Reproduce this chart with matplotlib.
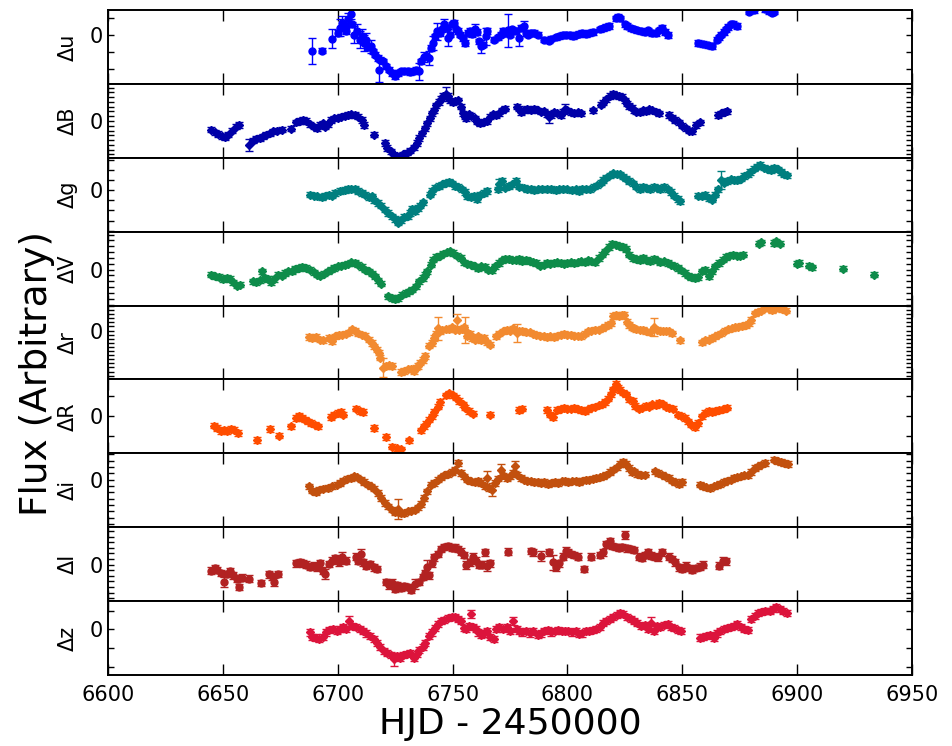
import numpy as np
import matplotlib.pyplot as plt
from matplotlib.ticker import MultipleLocator, FuncFormatter

# light curves, HJD - 2450000 vs. flux offset (arbitrary units)

# u
hjd_u = [6693.0, 6700.0, 6703.0, 6703.6, 6706.4, 6713.2, 6715.4, 6716.4, 6717.6, 6718.6, 6719.6, 6721.0,
         6722.4, 6723.6, 6725.0, 6726.4, 6727.6, 6729.0, 6730.4, 6731.6, 6733.0, 6734.0, 6736.4, 6738.4,
         6740.6, 6742.4, 6744.4, 6745.4, 6747.4, 6749.0, 6749.8, 6750.6, 6751.6, 6752.4, 6753.4, 6754.4,
         6755.4, 6756.6, 6757.6, 6758.6, 6760.6, 6761.6, 6763.4, 6765.2, 6768.0, 6769.6, 6771.0, 6772.0,
         6773.0, 6775.0, 6776.0, 6777.6, 6780.0, 6782.0, 6783.0, 6784.0, 6785.6, 6787.0, 6790.0, 6792.0,
         6793.0, 6795.0, 6796.4, 6798.0, 6799.4, 6801.0, 6802.4, 6803.6, 6805.0, 6806.4, 6808.0, 6809.6,
         6811.0, 6814.0, 6815.6, 6817.0, 6818.0, 6821.0, 6822.0, 6823.0, 6825.0, 6826.0, 6827.6, 6829.0,
         6830.4, 6832.0, 6833.6, 6835.0, 6837.0, 6838.4, 6840.0, 6841.0, 6842.4, 6843.6, 6857.0, 6859.0,
         6861.0, 6863.0, 6865.0, 6866.0, 6867.0, 6868.0, 6869.0, 6870.0, 6871.0, 6872.0, 6873.6, 6879.0,
         6881.0, 6886.0, 6887.6, 6889.0, 6890.0]
flux_u = [-46, 7, 27, 12, 32, -36, -48, -58, -68, -73, -78, -93,
          -103, -113, -123, -113, -108, -108, -106, -110, -108, -103, -78, -63,
          -38, -3, 7, 17, 22, 2, 32, 37, 17, 12, 2, -8,
          -23, 7, 12, 4, 10, -18, -28, 12, -13, -6, 2, 12,
          7, 2, 17, 12, 22, 7, 2, 7, 7, 2, -13, -16,
          -10, -6, -3, 2, 0, 2, -3, 2, 4, 7, 4, 7,
          10, 17, 20, 24, 27, 50, 54, 50, 32, 27, 20, 17,
          14, 12, 10, 14, 7, 7, 14, 22, 10, 0, -23, -26,
          -30, -33, -13, -6, 2, 10, 17, 24, 32, 34, 27, 70,
          74, 77, 72, 67, 70]
big_hjd_u = [6689.0, 6697.6, 6701.0, 6702.0, 6704.4, 6705.6, 6707.2, 6708.4, 6709.6, 6710.4, 6711.6, 6712.4,
             6714.4, 6717.8, 6735.6, 6737.4, 6739.6, 6741.4, 6743.4, 6746.4, 6748.2, 6759.6, 6762.4, 6764.4,
             6774.0, 6779.0, 6781.0]
big_flux_u = [-48, -10, 22, 37, 47, 62, 2, 12, -13, -3, -23, -13,
              -33, -103, -108, -66, -68, -23, 12, 32, -8, 17, -33, -3,
              14, -8, 27]
big_err_u = [39, 28, 25, 20, 20, 15, 25, 20, 25, 20, 25, 20,
             20, 35, 25, 15, 20, 20, 25, 15, 25, 15, 20, 25,
             50, 25, 15]

# B
hjd_B = [6645.0, 6646.4, 6648.0, 6649.6, 6651.0, 6652.4, 6654.0, 6655.6, 6657.0, 6663.0, 6664.4, 6666.0,
         6667.6, 6669.0, 6670.4, 6672.0, 6673.6, 6675.6, 6679.6, 6682.0, 6683.6, 6685.0, 6686.4, 6688.0,
         6689.6, 6691.0, 6692.4, 6693.6, 6694.4, 6695.6, 6697.0, 6698.4, 6700.0, 6701.6, 6703.0, 6704.4,
         6706.0, 6707.6, 6709.0, 6710.4, 6711.6, 6716.0, 6720.4, 6721.6, 6723.0, 6724.0, 6725.6, 6727.0,
         6728.4, 6730.0, 6731.6, 6733.0, 6734.4, 6735.6, 6736.8, 6738.0, 6739.0, 6740.0, 6741.0, 6742.0,
         6743.0, 6744.0, 6745.0, 6746.0, 6748.0, 6749.0, 6750.0, 6751.0, 6752.4, 6753.6, 6754.4, 6755.2,
         6756.0, 6757.0, 6758.0, 6759.6, 6760.6, 6762.0, 6763.6, 6765.0, 6766.4, 6767.6, 6769.0, 6770.4,
         6771.6, 6773.0, 6778.0, 6779.0, 6780.0, 6781.0, 6782.4, 6784.0, 6785.6, 6787.0, 6788.4, 6789.6,
         6791.0, 6793.0, 6794.0, 6795.6, 6797.0, 6798.0, 6800.0, 6801.6, 6803.0, 6804.4, 6806.0, 6811.0,
         6814.4, 6815.6, 6817.0, 6818.4, 6820.0, 6821.2, 6822.4, 6823.6, 6825.0, 6826.0, 6827.0, 6828.0,
         6829.0, 6830.0, 6831.6, 6833.0, 6834.4, 6835.6, 6837.0, 6838.4, 6840.0, 6844.0, 6845.6, 6847.0,
         6848.4, 6850.0, 6851.6, 6853.0, 6854.4, 6856.0, 6857.6, 6865.6, 6867.0, 6868.4, 6869.6]
flux_B = [-27, -34, -40, -47, -50, -42, -30, -17, -12, -60, -54, -52,
          -47, -42, -37, -32, -30, -27, -24, -4, 0, 3, 0, -10,
          -17, -22, -12, -7, -17, -10, 3, 8, 10, 13, 16, 18,
          20, 18, 13, 3, -12, -42, -67, -82, -92, -102, -107, -107,
          -102, -97, -90, -80, -67, -52, -37, -22, -7, 8, 23, 33,
          48, 58, 68, 76, 76, 63, 58, 60, 63, 43, 23, 13,
          8, 20, 16, 8, -2, -7, -2, 0, 13, 20, 18, 23,
          33, 38, 43, 38, 26, 33, 38, 33, 38, 33, 28, 30,
          20, 18, 26, 23, 18, 28, 33, 26, 23, 26, 23, 33,
          50, 56, 66, 76, 83, 78, 76, 73, 63, 53, 46, 40,
          33, 28, 26, 33, 30, 36, 33, 28, 23, 18, 10, 3,
          -4, -14, -22, -30, -32, -12, -4, 18, 23, 28, 30]
big_hjd_B = [6661.6, 6747.0, 6792.0, 6799.0]
big_flux_B = [-72, 83, 13, 38]
big_err_B = [18, 22, 18, 15]

# g
hjd_g = [6688.0, 6689.6, 6691.2, 6693.0, 6694.4, 6696.0, 6697.6, 6699.0, 6701.0, 6703.0, 6704.4, 6706.0,
         6707.6, 6709.0, 6710.4, 6712.0, 6713.6, 6715.0, 6716.0, 6717.6, 6719.0, 6720.4, 6722.0, 6723.6,
         6725.0, 6726.4, 6727.6, 6729.0, 6730.4, 6731.6, 6732.4, 6733.6, 6735.0, 6736.0, 6737.0, 6740.0,
         6741.0, 6742.4, 6744.0, 6745.6, 6747.0, 6748.4, 6749.6, 6751.0, 6752.4, 6754.0, 6755.4, 6756.4,
         6758.0, 6759.4, 6760.6, 6762.0, 6763.6, 6765.0, 6769.6, 6771.6, 6773.0, 6774.4, 6776.0, 6777.6,
         6779.0, 6781.0, 6782.4, 6784.0, 6785.6, 6787.0, 6789.0, 6791.0, 6793.0, 6795.0, 6796.4, 6798.0,
         6800.0, 6802.0, 6803.6, 6805.0, 6806.4, 6808.0, 6810.0, 6811.6, 6813.0, 6814.4, 6815.6, 6817.0,
         6818.4, 6820.0, 6821.6, 6823.0, 6824.4, 6825.6, 6827.0, 6828.4, 6830.0, 6831.6, 6833.0, 6834.4,
         6836.0, 6837.6, 6839.0, 6840.4, 6842.0, 6843.6, 6845.0, 6846.4, 6848.0, 6849.0, 6857.0, 6858.4,
         6860.0, 6861.6, 6863.0, 6864.4, 6865.6, 6868.0, 6869.6, 6871.0, 6872.4, 6874.0, 6875.6, 6877.0,
         6878.4, 6879.6, 6881.0, 6882.4, 6884.0, 6885.6, 6887.0, 6888.4, 6890.0, 6891.6, 6893.0, 6894.4,
         6895.6]
flux_g = [-13, -16, -18, -20, -16, -13, -16, -8, -3, 0, 4, 2,
          4, -3, -8, -13, -20, -18, -30, -38, -46, -58, -68, -78,
          -86, -96, -88, -80, -78, -68, -56, -63, -53, -46, -36, -13,
          -3, 7, 12, 17, 22, 24, 20, 12, 10, 2, -6, -18,
          -20, -16, -26, -13, -8, -3, 2, 27, 7, 12, 17, 27,
          10, 7, 2, 4, 0, 2, 4, 2, 4, 0, 2, 4,
          2, 0, 2, -3, 4, 2, 4, 10, 14, 22, 30, 37,
          44, 50, 47, 47, 40, 34, 27, 20, 10, 4, 10, 7,
          4, 10, 7, 4, 10, 2, -6, -16, -26, -33, -16, -18,
          -13, -23, -28, -13, 2, 22, 27, 32, 30, 30, 34, 42,
          47, 54, 64, 70, 74, 67, 64, 60, 67, 62, 54, 47,
          44]
big_hjd_g = [6770.4, 6867.0]
big_flux_g = [17, 30]
big_err_g = [15, 28]

# V
hjd_V = [6645.0, 6646.4, 6648.4, 6650.0, 6651.6, 6653.0, 6654.4, 6656.0, 6657.6, 6663.0, 6664.4, 6666.0,
         6667.0, 6668.0, 6669.6, 6671.0, 6672.4, 6674.0, 6675.6, 6677.0, 6678.4, 6680.0, 6681.6, 6683.0,
         6684.4, 6686.0, 6688.0, 6689.6, 6691.0, 6692.4, 6694.0, 6695.6, 6697.0, 6698.4, 6700.0, 6701.6,
         6703.0, 6704.4, 6706.0, 6707.6, 6709.0, 6710.4, 6712.0, 6713.6, 6715.0, 6716.4, 6717.6, 6719.0,
         6722.0, 6723.6, 6725.0, 6726.4, 6728.0, 6729.6, 6731.0, 6732.4, 6734.0, 6735.6, 6737.0, 6738.0,
         6739.0, 6740.4, 6741.6, 6743.0, 6744.4, 6746.0, 6747.6, 6749.0, 6750.4, 6752.0, 6753.6, 6755.0,
         6756.4, 6758.0, 6759.6, 6761.0, 6762.4, 6764.0, 6765.6, 6767.0, 6768.4, 6770.0, 6771.6, 6773.0,
         6774.4, 6776.0, 6777.6, 6779.0, 6780.4, 6782.0, 6783.6, 6785.0, 6786.4, 6788.0, 6789.6, 6791.0,
         6792.4, 6794.0, 6795.6, 6797.0, 6798.4, 6800.0, 6801.6, 6803.0, 6804.4, 6806.0, 6807.6, 6809.0,
         6810.4, 6812.0, 6813.6, 6815.0, 6816.4, 6818.0, 6819.4, 6821.0, 6822.4, 6824.0, 6825.6, 6827.0,
         6828.4, 6830.0, 6831.6, 6833.0, 6834.4, 6836.0, 6837.6, 6839.0, 6840.4, 6842.0, 6843.6, 6845.0,
         6846.4, 6848.0, 6849.6, 6851.0, 6852.4, 6854.0, 6855.6, 6857.0, 6858.4, 6860.0, 6861.6, 6863.0,
         6864.4, 6866.0, 6867.6, 6869.0, 6870.4, 6872.0, 6873.6, 6875.0, 6876.4, 6883.6, 6884.4, 6890.0,
         6891.0, 6892.4, 6900.0, 6901.0, 6905.0, 6906.4, 6920.0, 6933.6]
flux_V = [-15, -20, -22, -28, -25, -28, -38, -48, -45, -35, -38, -32,
          -5, -25, -28, -38, -28, -15, -18, -10, -5, -5, 2, 5,
          8, 5, 0, -8, -15, -18, -12, -5, 0, 5, 10, 12,
          15, 18, 22, 20, 15, 8, 0, -5, -12, -20, -32, -42,
          -80, -85, -88, -85, -75, -70, -65, -60, -50, -35, -25, -15,
          -5, 15, 30, 38, 42, 48, 52, 55, 50, 42, 35, 22,
          18, 15, 10, 5, 10, 8, 0, -2, 10, 20, 28, 32,
          32, 30, 28, 32, 25, 30, 25, 22, 20, 12, 15, 20,
          18, 20, 22, 20, 18, 20, 22, 20, 22, 25, 22, 28,
          25, 22, 35, 45, 55, 68, 78, 75, 72, 68, 62, 45,
          35, 32, 28, 35, 30, 25, 32, 28, 22, 25, 20, 15,
          12, 5, -2, -10, -18, -22, -25, -22, -5, 0, -20, -5,
          10, 20, 30, 38, 42, 45, 42, 42, 45, 78, 82, 80,
          85, 78, 18, 20, 12, 7, 3, -15]

# r
hjd_r = [6687.6, 6689.0, 6690.4, 6692.4, 6693.6, 6696.0, 6697.6, 6699.0, 6700.4, 6702.0, 6703.6, 6705.0,
         6706.4, 6707.6, 6709.0, 6710.4, 6712.0, 6713.6, 6715.0, 6716.0, 6717.0, 6718.0, 6718.6, 6721.0,
         6722.4, 6723.6, 6727.6, 6729.0, 6730.4, 6732.0, 6733.0, 6734.0, 6735.0, 6736.0, 6737.0, 6738.0,
         6739.6, 6741.0, 6742.0, 6743.0, 6744.4, 6745.6, 6747.0, 6748.4, 6749.6, 6751.0, 6753.0, 6754.0,
         6755.0, 6756.4, 6757.6, 6758.4, 6759.6, 6761.0, 6762.4, 6763.6, 6765.0, 6766.4, 6769.0, 6770.4,
         6772.0, 6773.6, 6775.0, 6776.4, 6779.0, 6780.4, 6782.0, 6783.6, 6785.0, 6786.4, 6788.0, 6789.6,
         6791.0, 6792.4, 6794.0, 6795.6, 6797.0, 6798.4, 6800.0, 6801.6, 6803.0, 6804.4, 6806.0, 6807.6,
         6809.0, 6810.4, 6812.0, 6813.6, 6815.0, 6816.4, 6817.6, 6819.0, 6820.0, 6821.2, 6822.4, 6823.6,
         6824.8, 6826.0, 6827.0, 6828.0, 6829.0, 6830.0, 6831.4, 6832.8, 6834.4, 6836.0, 6839.0, 6840.4,
         6841.6, 6843.0, 6844.4, 6845.6, 6849.0, 6858.4, 6860.0, 6861.6, 6863.0, 6864.4, 6865.6, 6867.0,
         6868.4, 6870.0, 6871.6, 6873.0, 6874.4, 6876.0, 6877.6, 6879.0, 6880.0, 6881.6, 6883.0, 6884.4,
         6886.0, 6887.6, 6889.0, 6890.4, 6892.0, 6893.6, 6895.0]
flux_r = [-20, -23, -20, -28, -30, -23, -33, -18, -13, -13, -10, -6,
          4, 0, -8, -13, -16, -28, -38, -48, -58, -68, -83, -108,
          -106, -108, -126, -123, -118, -116, -123, -113, -108, -98, -90, -78,
          -46, -38, -23, -10, -3, 2, 4, 4, 10, 2, 2, 4,
          10, -16, -10, -23, -28, -18, -30, -23, -36, -43, -18, -10,
          -3, 2, 0, 7, -3, 0, -6, -6, -10, -13, -16, -18,
          -20, -18, -20, -16, -13, -10, -13, -13, -16, -16, -18, -10,
          -3, 0, 2, 2, 7, 12, 17, 22, 44, 47, 44, 47,
          47, 27, 17, 10, 7, 4, 2, 2, -3, -6, 2, 0,
          -3, 0, -3, -8, -30, -36, -30, -28, -23, -18, -13, -8,
          0, 4, 7, 10, 12, 14, 17, 22, 32, 52, 57, 60,
          70, 67, 62, 67, 70, 64, 60]
big_hjd_r = [6719.6, 6743.6, 6752.0, 6755.6, 6778.0, 6837.6]
big_flux_r = [-113, 7, 32, 2, -8, 10]
big_err_r = [28, 35, 18, 40, 28, 28]

# R
hjd_R = [6646.0, 6647.6, 6649.0, 6650.4, 6652.0, 6653.6, 6655.0, 6656.4, 6665.0, 6670.4, 6674.4, 6679.6,
         6682.0, 6683.0, 6684.4, 6685.6, 6687.0, 6688.4, 6690.0, 6691.6, 6697.0, 6698.4, 6700.0, 6701.6,
         6702.4, 6708.0, 6709.6, 6711.0, 6716.0, 6721.0, 6723.6, 6725.6, 6727.6, 6731.0, 6736.4, 6737.6,
         6738.4, 6739.6, 6741.0, 6742.0, 6743.6, 6744.4, 6747.0, 6748.4, 6750.0, 6751.6, 6753.0, 6754.4,
         6755.6, 6757.0, 6759.0, 6766.4, 6779.0, 6780.4, 6791.0, 6792.4, 6793.6, 6795.6, 6797.0, 6798.4,
         6800.0, 6801.6, 6803.0, 6804.4, 6806.0, 6807.6, 6809.0, 6810.4, 6812.0, 6813.6, 6815.0, 6816.4,
         6817.6, 6819.0, 6820.0, 6821.0, 6822.0, 6823.0, 6824.4, 6825.6, 6827.0, 6828.4, 6829.6, 6831.0,
         6832.4, 6834.0, 6835.6, 6837.0, 6838.4, 6840.0, 6841.6, 6843.0, 6844.4, 6846.0, 6848.0, 6849.6,
         6851.0, 6852.4, 6854.0, 6855.6, 6857.0, 6858.4, 6860.0, 6861.6, 6863.0, 6864.4, 6866.0, 6867.6,
         6869.6]
flux_R = [-29, -36, -46, -41, -46, -39, -41, -51, -71, -39, -59, -31,
          -6, 1, -6, -11, -16, -21, -26, -31, -3, 4, 9, 11,
          4, 21, 14, 11, -36, -63, -91, -96, -99, -73, -43, -31,
          -23, -11, -1, 11, 27, 41, 61, 67, 61, 54, 44, 34,
          24, 14, 7, 4, 17, 21, 17, 4, -3, 17, 21, 24,
          21, 21, 24, 19, 17, 14, 19, 24, 27, 31, 34, 41,
          51, 64, 79, 94, 84, 77, 69, 64, 49, 44, 29, 21,
          24, 29, 27, 34, 31, 39, 34, 27, 24, 21, 4, 1,
          -6, -16, -26, -33, -21, -1, 9, 14, 11, 14, 17, 19,
          24]

# i
hjd_i = [6687.6, 6689.0, 6690.4, 6692.0, 6693.6, 6695.6, 6697.6, 6699.6, 6701.0, 6702.4, 6704.0, 6705.6,
         6707.0, 6708.4, 6710.0, 6711.6, 6713.0, 6714.4, 6716.0, 6717.6, 6719.0, 6720.4, 6722.0, 6723.6,
         6725.0, 6727.6, 6729.0, 6730.4, 6732.0, 6733.6, 6735.0, 6736.4, 6737.6, 6739.0, 6740.4, 6742.0,
         6743.6, 6745.0, 6746.4, 6748.0, 6749.6, 6751.0, 6752.4, 6753.6, 6755.0, 6756.4, 6758.0, 6759.6,
         6761.0, 6762.4, 6764.0, 6766.0, 6768.4, 6769.6, 6772.0, 6773.6, 6775.0, 6776.4, 6778.0, 6779.6,
         6781.0, 6782.4, 6784.0, 6785.6, 6787.0, 6788.4, 6790.0, 6791.6, 6793.0, 6794.4, 6796.0, 6797.6,
         6799.0, 6800.4, 6802.0, 6803.6, 6805.0, 6806.4, 6808.0, 6809.6, 6811.0, 6812.4, 6814.0, 6815.6,
         6817.0, 6818.4, 6820.0, 6821.6, 6823.0, 6824.4, 6825.6, 6827.0, 6828.0, 6829.0, 6830.4, 6832.0,
         6833.6, 6838.0, 6839.6, 6841.0, 6842.4, 6844.0, 6845.6, 6847.0, 6848.4, 6850.0, 6857.6, 6859.0,
         6860.4, 6862.0, 6863.6, 6865.0, 6866.4, 6868.0, 6869.6, 6871.0, 6872.4, 6874.0, 6875.6, 6877.0,
         6878.4, 6880.0, 6881.6, 6883.0, 6884.4, 6886.0, 6890.0, 6891.6, 6893.0, 6894.4, 6896.0]
flux_i = [-20, -33, -37, -30, -27, -25, -20, -15, -10, -3, 3, 5,
          10, 7, 0, -7, -15, -20, -27, -40, -55, -70, -80, -90,
          -97, -100, -100, -95, -93, -90, -83, -73, -55, -35, -15, -10,
          0, 7, 13, 17, 23, 30, 50, 20, 10, 0, -5, -7,
          -3, -10, -20, -25, -10, 3, 13, 5, 10, 20, 15, 5,
          0, -3, -5, -7, -7, -10, -7, -13, -10, -7, -10, -5,
          -3, -7, -5, -3, -7, -3, 0, 0, 3, 5, 7, 10,
          15, 23, 30, 37, 47, 53, 47, 35, 23, 25, 17, 13,
          15, 25, 20, 15, 10, 5, -3, -7, -13, -7, -15, -20,
          -23, -25, -20, -17, -13, -7, -3, 0, 5, 7, 10, 13,
          13, 23, 35, 40, 45, 50, 60, 55, 53, 50, 47]
big_hjd_i = [6726.4, 6765.0, 6767.0, 6771.0, 6777.0]
big_flux_i = [-87, 5, -30, 30, 40]
big_err_i = [30, 22, 20, 18, 15]

# I
hjd_I = [6645.0, 6646.4, 6647.6, 6649.0, 6651.6, 6653.0, 6654.4, 6656.0, 6657.0, 6658.4, 6661.6, 6666.4,
         6670.0, 6671.6, 6674.0, 6682.0, 6683.6, 6685.0, 6686.4, 6688.0, 6689.6, 6691.0, 6692.4, 6693.6,
         6696.0, 6697.6, 6699.0, 6700.4, 6703.6, 6708.0, 6709.0, 6711.0, 6712.4, 6714.0, 6715.6, 6717.0,
         6721.0, 6722.4, 6725.0, 6726.0, 6727.6, 6729.0, 6730.4, 6732.0, 6735.6, 6737.0, 6738.0, 6739.6,
         6741.0, 6742.0, 6743.6, 6745.0, 6746.4, 6748.0, 6749.6, 6751.0, 6752.4, 6753.6, 6755.0, 6757.6,
         6759.0, 6760.0, 6761.6, 6763.0, 6766.4, 6774.0, 6784.0, 6785.0, 6792.0, 6795.0, 6796.4, 6798.0,
         6800.4, 6801.6, 6803.0, 6804.4, 6807.0, 6810.4, 6814.0, 6815.6, 6817.0, 6818.4, 6819.6, 6821.0,
         6822.4, 6823.6, 6826.0, 6827.6, 6829.0, 6831.0, 6832.4, 6833.6, 6835.0, 6836.4, 6838.0, 6839.6,
         6841.0, 6844.0, 6845.6, 6847.0, 6848.4, 6850.0, 6851.6, 6853.0, 6854.4, 6856.0, 6857.6, 6859.0,
         6866.0, 6867.6, 6869.0]
flux_I = [-18, -10, -16, -26, -28, -20, -33, -43, -68, -40, -43, -56,
          -30, -36, -28, 4, 7, 4, 0, -6, -3, -8, 4, -18,
          2, 12, 20, 7, 12, 24, 12, 7, -3, 2, -8, -13,
          -53, -63, -73, -63, -70, -66, -68, -76, -53, -38, -26, -33,
          4, 22, 32, 47, 54, 57, 52, 52, 47, 40, 30, 7,
          24, 12, 0, 0, 4, 40, 42, 37, 37, -8, 4, 24,
          37, 32, 30, 24, -13, 24, 30, 37, 62, 72, 57, 54,
          52, 54, 50, 47, 44, 24, 20, 30, 37, 27, 24, 22,
          37, 24, 17, 7, -8, -13, -3, -10, -16, -10, -6, 0,
          -3, 12, 10]
big_hjd_I = [6650.4, 6672.4, 6694.4, 6702.0, 6710.0, 6723.6, 6733.6, 6738.8, 6756.0, 6764.0, 6765.0, 6788.4,
             6793.6, 6799.4, 6825.0]
big_flux_I = [-53, -53, -28, 24, 32, -56, -58, -8, 0, 37, -3, 27,
              7, 42, 90]
big_err_I = [15, 12, 15, 15, 15, 12, 15, 22, 12, 12, 15, 15,
             22, 12, 12]

# z
hjd_z = [6688.0, 6689.0, 6690.4, 6692.0, 6693.6, 6695.0, 6696.4, 6698.0, 6699.6, 6701.0, 6702.4, 6703.6,
         6706.4, 6708.0, 6709.6, 6711.0, 6712.4, 6714.0, 6715.6, 6717.0, 6718.4, 6720.0, 6721.6, 6723.0,
         6725.6, 6727.0, 6728.4, 6730.0, 6731.6, 6733.0, 6734.4, 6735.6, 6737.0, 6738.0, 6739.6, 6741.0,
         6742.4, 6743.6, 6745.0, 6746.4, 6748.0, 6749.6, 6751.0, 6752.4, 6753.6, 6755.0, 6756.0, 6757.0,
         6759.0, 6760.0, 6761.0, 6762.4, 6763.6, 6765.0, 6766.4, 6768.0, 6769.0, 6770.4, 6772.0, 6773.6,
         6775.0, 6778.0, 6779.0, 6780.4, 6782.0, 6783.6, 6785.0, 6787.0, 6788.4, 6790.0, 6791.6, 6793.0,
         6794.4, 6796.0, 6797.6, 6799.0, 6800.4, 6802.0, 6803.6, 6805.0, 6806.4, 6808.0, 6809.6, 6811.0,
         6812.4, 6814.0, 6815.6, 6817.0, 6818.4, 6820.0, 6821.6, 6823.0, 6824.4, 6826.0, 6827.6, 6829.0,
         6830.4, 6832.0, 6833.6, 6835.0, 6837.6, 6839.0, 6840.4, 6842.0, 6843.6, 6845.0, 6846.4, 6848.0,
         6849.6, 6857.6, 6859.0, 6860.4, 6862.0, 6863.6, 6865.0, 6866.4, 6868.0, 6869.6, 6871.0, 6872.4,
         6874.0, 6875.6, 6877.0, 6878.4, 6880.0, 6881.6, 6883.0, 6884.4, 6886.0, 6888.0, 6889.6, 6891.0,
         6892.4, 6894.0, 6895.6]
flux_z = [-9, -22, -24, -29, -22, -9, -2, 1, -4, 1, 6, 1,
          11, 6, 1, -6, -12, -19, -29, -39, -52, -64, -69, -76,
          -79, -84, -76, -74, -69, -84, -74, -62, -52, -39, -19, -9,
          4, 16, 24, 28, 34, 38, 36, 31, 26, 4, 1, 11,
          6, 1, -9, -16, -12, -6, -22, -29, 1, 8, 1, 8,
          -4, 1, -6, -9, -4, -12, -6, -16, -12, -6, -2, -9,
          -6, -2, -4, -6, -4, -9, -6, -14, -12, -6, -4, -2,
          1, 8, 18, 26, 31, 36, 44, 48, 46, 38, 31, 24,
          18, 11, 14, 1, -4, 11, 8, 14, 16, 8, 4, -2,
          -6, -24, -22, -19, -16, -26, -12, -4, 1, 4, 6, 11,
          16, 8, 1, -2, 31, 41, 48, 51, 54, 56, 61, 66,
          61, 54, 48]
big_hjd_z = [6705.0, 6724.4, 6758.0, 6776.4, 6836.4]
big_flux_z = [24, -89, 46, 26, 18]
big_err_z = [15, 20, 12, 12, 20]

bands = ['u', 'B', 'g', 'V', 'r', 'R', 'i', 'I', 'z']
colors = ['#0000ff', '#0000a8', '#007f7f', '#0e8c4a', '#f28a30', '#ff4d00', '#c2500e', '#b22222', '#dc143c']
series = [(hjd_u, flux_u), (hjd_B, flux_B), (hjd_g, flux_g), (hjd_V, flux_V), (hjd_r, flux_r),
          (hjd_R, flux_R), (hjd_i, flux_i), (hjd_I, flux_I), (hjd_z, flux_z)]
big = {'u': (big_hjd_u, big_flux_u, big_err_u), 'B': (big_hjd_B, big_flux_B, big_err_B),
       'g': (big_hjd_g, big_flux_g, big_err_g), 'r': (big_hjd_r, big_flux_r, big_err_r),
       'i': (big_hjd_i, big_flux_i, big_err_i), 'I': (big_hjd_I, big_flux_I, big_err_I),
       'z': (big_hjd_z, big_flux_z, big_err_z)}
small_err = [8, 8, 8, 8, 8, 8, 8, 10, 9]
ylims = [(-145, 75), (-112, 113), (-123, 96), (-108, 114), (-149, 76),
         (-111, 108), (-143, 79), (-111, 114), (-135, 84)]
ystep = [50, 14.5, 30, 17.5, 12.5, 60, 19, 17, 55]

fig = plt.figure(figsize=(9.53, 7.46), dpi=100)
axes = fig.subplots(9, 1, sharex=True)
fig.subplots_adjust(left=0.1133, right=0.957, top=0.9866, bottom=0.0952, hspace=0)

for k, ax in enumerate(axes):
    b = bands[k]
    c = colors[k]
    mk = 'o' if b in ('u', 'I') else 'D'
    ms = 5 if mk == 'o' else 4.5
    x, y = series[k]
    ax.errorbar(x, y, yerr=small_err[k], fmt=mk, color=c, mec=c, ms=ms,
                elinewidth=1, capsize=3, capthick=1)
    if b in big:
        bx, by, be = big[b]
        ax.errorbar(bx, by, yerr=be, fmt=mk, color=c, mec=c, ms=ms,
                    elinewidth=1, capsize=3, capthick=1)
    ax.set_ylim(ylims[k])
    ax.set_xlim(6600, 6950)
    ax.yaxis.set_major_locator(MultipleLocator(ystep[k]))
    ax.yaxis.set_major_formatter(FuncFormatter(lambda v, p: '0' if abs(v) < 1e-6 else ''))
    ax.xaxis.set_major_locator(MultipleLocator(50))
    ax.tick_params(axis='x', direction='in', top=True, bottom=True, length=8, width=1,
                   labelsize=15, pad=7)
    ax.tick_params(axis='y', direction='in', left=True, right=True, length=4, width=1,
                   labelsize=15, pad=4)
    for s in ax.spines.values():
        s.set_linewidth(1.4)
    ax.set_ylabel('\u0394' + b, fontsize=15)
    ax.yaxis.set_label_coords(-0.037, 0.5)

fig.text(0.039, 0.5, 'Flux (Arbitrary)', rotation=90, ha='center', va='center', fontsize=27)
fig.text(0.535, 0.03, 'HJD - 2450000', ha='center', va='center', fontsize=26)

fig.savefig('out.png', dpi=100)
